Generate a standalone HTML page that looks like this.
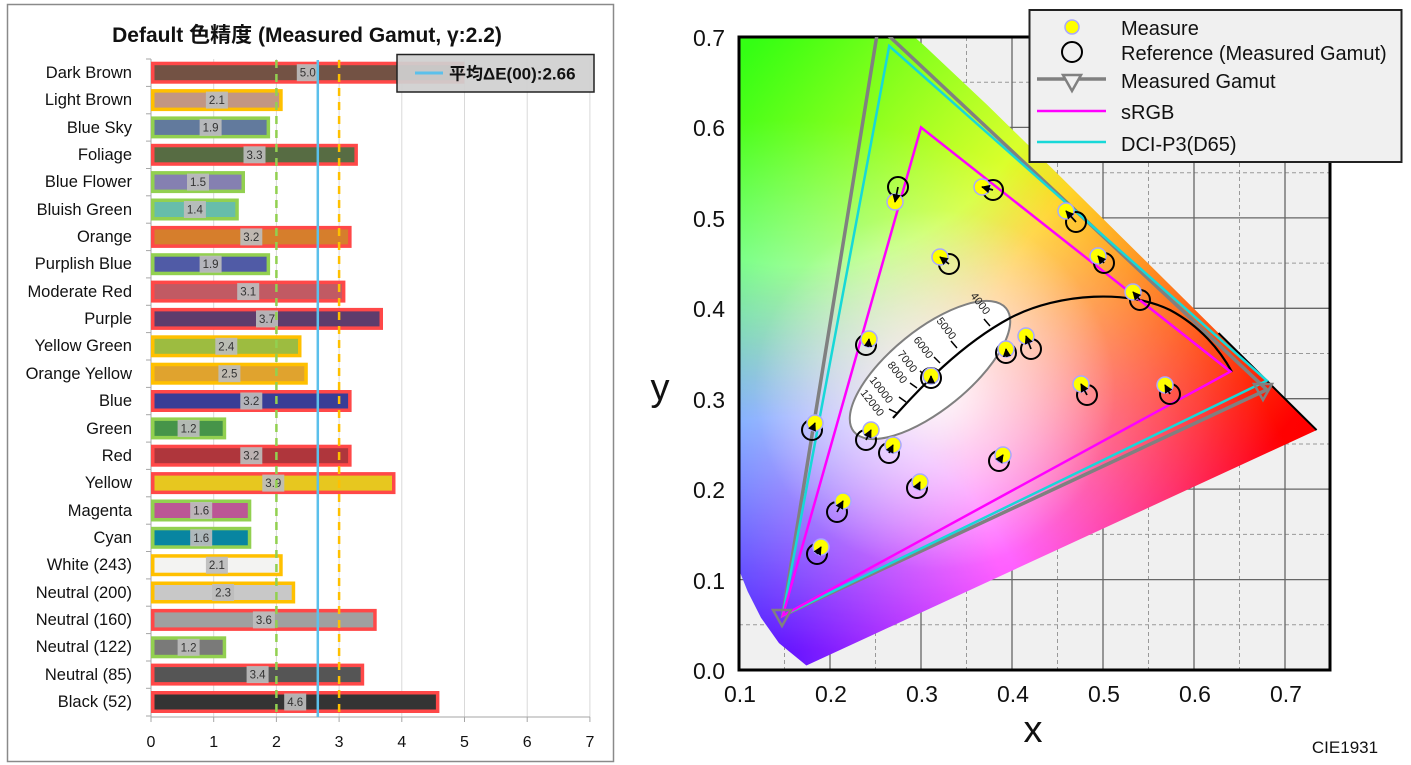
<!DOCTYPE html>
<html><head><meta charset="utf-8"><style>
html,body{margin:0;padding:0;background:#fff;}
svg{display:block;font-family:"Liberation Sans","Noto Sans CJK JP",sans-serif;}
</style></head><body>
<svg width="1411" height="765" viewBox="0 0 1411 765" xmlns="http://www.w3.org/2000/svg">
<defs>
<radialGradient id="gG" gradientUnits="userSpaceOnUse" cx="800" cy="10" r="640"><stop offset="0" stop-color="#30ff10"/><stop offset="0.4" stop-color="#40ff20"/><stop offset="1" stop-color="#000"/></radialGradient>
<radialGradient id="gB" gradientUnits="userSpaceOnUse" cx="790" cy="660" r="540"><stop offset="0" stop-color="#1a10ff"/><stop offset="0.45" stop-color="#3040ff"/><stop offset="1" stop-color="#000"/></radialGradient>
<radialGradient id="gR" gradientUnits="userSpaceOnUse" cx="1310" cy="430" r="680"><stop offset="0" stop-color="#ff0000"/><stop offset="0.5" stop-color="#ff1010"/><stop offset="1" stop-color="#000"/></radialGradient>
<radialGradient id="gW" gradientUnits="userSpaceOnUse" cx="935" cy="390" r="180"><stop offset="0" stop-color="#fff" stop-opacity="0.95"/><stop offset="0.35" stop-color="#fff" stop-opacity="0.55"/><stop offset="1" stop-color="#fff" stop-opacity="0"/></radialGradient>
<clipPath id="locus"><polygon points="806.4,665.5 779,643.1 761,617.7 747.7,591.5 739,569.7 739,37 914.4,37 922.5,44 987.5,105.3 1052.1,168.4 1114.4,230 1171.4,286.4 1218.6,333.1 1253.9,368 1277.3,391.2 1302.3,416 1316.6,430.1"/></clipPath>
<clipPath id="plot"><rect x="739" y="37" width="591" height="633"/></clipPath>
<marker id="ah" viewBox="0 0 10 10" refX="9" refY="5" markerWidth="5" markerHeight="5" orient="auto"><path d="M0,0 L10,5 L0,10 z" fill="#000"/></marker>
</defs>

<!-- LEFT CHART -->
<rect x="7.5" y="4.5" width="606" height="757" fill="#fff" stroke="#8a8a8a" stroke-width="1.5"/>
<text x="307" y="42" font-size="21" font-weight="bold" text-anchor="middle" fill="#111">Default 色精度 (Measured Gamut, γ:2.2)</text>
<g stroke="#d9d9d9" stroke-width="1">
<line x1="213.7" y1="59" x2="213.7" y2="717"/><line x1="276.4" y1="59" x2="276.4" y2="717"/><line x1="339.1" y1="59" x2="339.1" y2="717"/><line x1="401.8" y1="59" x2="401.8" y2="717"/><line x1="464.5" y1="59" x2="464.5" y2="717"/><line x1="527.2" y1="59" x2="527.2" y2="717"/><line x1="589.9" y1="59" x2="589.9" y2="717"/>
</g>
<g stroke="#a6a6a6" stroke-width="1">
<line x1="151" y1="59" x2="151" y2="717"/><line x1="151" y1="717" x2="590" y2="717"/>
<line x1="146" y1="59" x2="151" y2="59"/><line x1="146" y1="86.4" x2="151" y2="86.4"/><line x1="146" y1="113.8" x2="151" y2="113.8"/><line x1="146" y1="141.1" x2="151" y2="141.1"/><line x1="146" y1="168.5" x2="151" y2="168.5"/><line x1="146" y1="195.8" x2="151" y2="195.8"/><line x1="146" y1="223.2" x2="151" y2="223.2"/><line x1="146" y1="250.6" x2="151" y2="250.6"/><line x1="146" y1="277.9" x2="151" y2="277.9"/><line x1="146" y1="305.3" x2="151" y2="305.3"/><line x1="146" y1="332.6" x2="151" y2="332.6"/><line x1="146" y1="360" x2="151" y2="360"/><line x1="146" y1="387.4" x2="151" y2="387.4"/><line x1="146" y1="414.7" x2="151" y2="414.7"/><line x1="146" y1="442.1" x2="151" y2="442.1"/><line x1="146" y1="469.4" x2="151" y2="469.4"/><line x1="146" y1="496.8" x2="151" y2="496.8"/><line x1="146" y1="524.2" x2="151" y2="524.2"/><line x1="146" y1="551.5" x2="151" y2="551.5"/><line x1="146" y1="578.9" x2="151" y2="578.9"/><line x1="146" y1="606.2" x2="151" y2="606.2"/><line x1="146" y1="633.6" x2="151" y2="633.6"/><line x1="146" y1="661" x2="151" y2="661"/><line x1="146" y1="688.3" x2="151" y2="688.3"/><line x1="146" y1="716" x2="151" y2="716"/>
<line x1="151" y1="717" x2="151" y2="722"/><line x1="213.7" y1="717" x2="213.7" y2="722"/><line x1="276.4" y1="717" x2="276.4" y2="722"/><line x1="339.1" y1="717" x2="339.1" y2="722"/><line x1="401.8" y1="717" x2="401.8" y2="722"/><line x1="464.5" y1="717" x2="464.5" y2="722"/><line x1="527.2" y1="717" x2="527.2" y2="722"/><line x1="589.9" y1="717" x2="589.9" y2="722"/>
</g>
<g font-size="16" fill="#111" text-anchor="middle">
<text x="151" y="747">0</text><text x="213.7" y="747">1</text><text x="276.4" y="747">2</text><text x="339.1" y="747">3</text><text x="401.8" y="747">4</text><text x="464.5" y="747">5</text><text x="527.2" y="747">6</text><text x="589.9" y="747">7</text>
</g>

<g font-size="16.5" fill="#111" text-anchor="end">
<text x="132" y="78">Dark Brown</text><text x="132" y="105">Light Brown</text><text x="132" y="133">Blue Sky</text><text x="132" y="160">Foliage</text><text x="132" y="187">Blue Flower</text><text x="132" y="215">Bluish Green</text><text x="132" y="242">Orange</text><text x="132" y="269">Purplish Blue</text><text x="132" y="297">Moderate Red</text><text x="132" y="324">Purple</text><text x="132" y="351">Yellow Green</text><text x="132" y="379">Orange Yellow</text><text x="132" y="406">Blue</text><text x="132" y="434">Green</text><text x="132" y="461">Red</text><text x="132" y="488">Yellow</text><text x="132" y="516">Magenta</text><text x="132" y="543">Cyan</text><text x="132" y="570">White (243)</text><text x="132" y="598">Neutral (200)</text><text x="132" y="625">Neutral (160)</text><text x="132" y="652">Neutral (122)</text><text x="132" y="680">Neutral (85)</text><text x="132" y="707">Black (52)</text>
</g>

<g stroke-width="3.5">
<rect x="152.75" y="63.45" width="310" height="18.5" fill="#735244" stroke="#ff4848"/>
<rect x="152.75" y="90.85" width="128.2" height="18.5" fill="#c29682" stroke="#ffc000"/>
<rect x="152.75" y="118.15" width="115.6" height="18.5" fill="#627a9d" stroke="#92d050"/>
<rect x="152.75" y="145.55" width="203.4" height="18.5" fill="#576c43" stroke="#ff4848"/>
<rect x="152.75" y="172.85" width="90.5" height="18.5" fill="#8580b1" stroke="#92d050"/>
<rect x="152.75" y="200.25" width="84.3" height="18.5" fill="#67bdaa" stroke="#92d050"/>
<rect x="152.75" y="227.65" width="197.1" height="18.5" fill="#d67e2c" stroke="#ff4848"/>
<rect x="152.75" y="254.95" width="115.6" height="18.5" fill="#505ba6" stroke="#92d050"/>
<rect x="152.75" y="282.35" width="190.9" height="18.5" fill="#c15a63" stroke="#ff4848"/>
<rect x="152.75" y="309.65" width="228.5" height="18.5" fill="#5e3c6c" stroke="#ff4848"/>
<rect x="152.75" y="337.05" width="147" height="18.5" fill="#9dbc40" stroke="#ffc000"/>
<rect x="152.75" y="364.45" width="153.3" height="18.5" fill="#e0a32e" stroke="#ffc000"/>
<rect x="152.75" y="391.75" width="197.1" height="18.5" fill="#383d96" stroke="#ff4848"/>
<rect x="152.75" y="419.15" width="71.7" height="18.5" fill="#469449" stroke="#92d050"/>
<rect x="152.75" y="446.45" width="197.1" height="18.5" fill="#af363c" stroke="#ff4848"/>
<rect x="152.75" y="473.85" width="241" height="18.5" fill="#e7c71f" stroke="#ff4848"/>
<rect x="152.75" y="501.25" width="96.8" height="18.5" fill="#bb5695" stroke="#92d050"/>
<rect x="152.75" y="528.55" width="96.8" height="18.5" fill="#0885a1" stroke="#92d050"/>
<rect x="152.75" y="555.95" width="128.2" height="18.5" fill="#f3f3f2" stroke="#ffc000"/>
<rect x="152.75" y="583.25" width="140.7" height="18.5" fill="#c8c8c8" stroke="#ffc000"/>
<rect x="152.75" y="610.65" width="222.2" height="18.5" fill="#a0a0a0" stroke="#ff4848"/>
<rect x="152.75" y="638.05" width="71.7" height="18.5" fill="#7a7a79" stroke="#92d050"/>
<rect x="152.75" y="665.35" width="209.7" height="18.5" fill="#555555" stroke="#ff4848"/>
<rect x="152.75" y="692.75" width="284.9" height="18.5" fill="#343434" stroke="#ff4848"/>
</g>

<g fill="#bdbdbd" fill-opacity="0.92">
<rect x="296.8" y="64.2" width="22" height="17"/><rect x="205.9" y="91.6" width="22" height="17"/><rect x="199.6" y="118.9" width="22" height="17"/><rect x="243.5" y="146.3" width="22" height="17"/><rect x="187" y="173.6" width="22" height="17"/><rect x="183.9" y="201" width="22" height="17"/><rect x="240.3" y="228.4" width="22" height="17"/><rect x="199.6" y="255.7" width="22" height="17"/><rect x="237.2" y="283.1" width="22" height="17"/><rect x="256" y="310.4" width="22" height="17"/><rect x="215.3" y="337.8" width="22" height="17"/><rect x="218.4" y="365.2" width="22" height="17"/><rect x="240.3" y="392.5" width="22" height="17"/><rect x="177.6" y="419.9" width="22" height="17"/><rect x="240.3" y="447.2" width="22" height="17"/><rect x="262.3" y="474.6" width="22" height="17"/><rect x="190.2" y="502" width="22" height="17"/><rect x="190.2" y="529.3" width="22" height="17"/><rect x="205.9" y="556.7" width="22" height="17"/><rect x="212.1" y="584" width="22" height="17"/><rect x="252.9" y="611.4" width="22" height="17"/><rect x="177.6" y="638.8" width="22" height="17"/><rect x="246.6" y="666.1" width="22" height="17"/><rect x="284.2" y="693.5" width="22" height="17"/>
</g>
<g font-size="11.5" fill="#333" text-anchor="middle">
<text x="307.8" y="76.7">5.0</text><text x="216.9" y="104.1">2.1</text><text x="210.6" y="131.4">1.9</text><text x="254.5" y="158.8">3.3</text><text x="198" y="186.1">1.5</text><text x="194.9" y="213.5">1.4</text><text x="251.3" y="240.9">3.2</text><text x="210.6" y="268.2">1.9</text><text x="248.2" y="295.6">3.1</text><text x="267" y="322.9">3.7</text><text x="226.3" y="350.3">2.4</text><text x="229.4" y="377.7">2.5</text><text x="251.3" y="405">3.2</text><text x="188.6" y="432.4">1.2</text><text x="251.3" y="459.7">3.2</text><text x="273.3" y="487.1">3.9</text><text x="201.2" y="514.5">1.6</text><text x="201.2" y="541.8">1.6</text><text x="216.9" y="569.2">2.1</text><text x="223.1" y="596.5">2.3</text><text x="263.9" y="623.9">3.6</text><text x="188.6" y="651.3">1.2</text><text x="257.6" y="678.6">3.4</text><text x="295.2" y="706">4.6</text>
</g>
<line x1="276.4" y1="60" x2="276.4" y2="717" stroke="#92d050" stroke-width="2.5" stroke-dasharray="8,6"/>
<line x1="339.1" y1="60" x2="339.1" y2="717" stroke="#ffc000" stroke-width="2.5" stroke-dasharray="8,6"/>
<line x1="317.8" y1="60" x2="317.8" y2="717" stroke="#5bc0eb" stroke-width="2.5"/>
<rect x="397" y="54.5" width="197" height="37.5" fill="#d0d0d0" fill-opacity="0.93" stroke="#222" stroke-width="1.5"/>
<line x1="415" y1="73" x2="443" y2="73" stroke="#5bc0eb" stroke-width="3"/>
<text x="449" y="79.5" font-size="17" font-weight="bold" fill="#111">平均ΔE(00):2.66</text>

<!-- RIGHT CHART -->
<rect x="739" y="37" width="591" height="633" fill="#f0f0f0"/>
<g stroke="#999" stroke-width="1" stroke-dasharray="4,3">
<line x1="784.5" y1="37" x2="784.5" y2="670"/><line x1="875.5" y1="37" x2="875.5" y2="670"/><line x1="966.5" y1="37" x2="966.5" y2="670"/><line x1="1057.5" y1="37" x2="1057.5" y2="670"/><line x1="1148.5" y1="37" x2="1148.5" y2="670"/><line x1="1239.5" y1="37" x2="1239.5" y2="670"/>
<line x1="739" y1="624.8" x2="1330" y2="624.8"/><line x1="739" y1="534.4" x2="1330" y2="534.4"/><line x1="739" y1="444" x2="1330" y2="444"/><line x1="739" y1="353.5" x2="1330" y2="353.5"/><line x1="739" y1="263.1" x2="1330" y2="263.1"/><line x1="739" y1="172.7" x2="1330" y2="172.7"/><line x1="739" y1="82.2" x2="1330" y2="82.2"/>
</g>
<g stroke="#666" stroke-width="1.3">
<line x1="830" y1="37" x2="830" y2="670"/><line x1="921" y1="37" x2="921" y2="670"/><line x1="1012" y1="37" x2="1012" y2="670"/><line x1="1103" y1="37" x2="1103" y2="670"/><line x1="1194" y1="37" x2="1194" y2="670"/><line x1="1285" y1="37" x2="1285" y2="670"/>
<line x1="739" y1="579.6" x2="1330" y2="579.6"/><line x1="739" y1="489.1" x2="1330" y2="489.1"/><line x1="739" y1="398.7" x2="1330" y2="398.7"/><line x1="739" y1="308.3" x2="1330" y2="308.3"/><line x1="739" y1="217.9" x2="1330" y2="217.9"/><line x1="739" y1="127.4" x2="1330" y2="127.4"/>
</g>
<g clip-path="url(#locus)">
<rect x="739" y="37" width="591" height="633" fill="#000"/>
<rect x="700" y="0" width="650" height="700" fill="url(#gG)" style="mix-blend-mode:screen"/>
<rect x="700" y="0" width="650" height="700" fill="url(#gB)" style="mix-blend-mode:screen"/>
<rect x="700" y="0" width="650" height="700" fill="url(#gR)" style="mix-blend-mode:screen"/>
<rect x="700" y="0" width="650" height="700" fill="url(#gW)"/>
</g>
<polyline points="1218.6,333.1 1253.9,368 1277.3,391.2 1302.3,416 1316.6,430.1" fill="none" stroke="#000" stroke-width="2"/>
<rect x="739" y="37" width="591" height="633" fill="none" stroke="#000" stroke-width="3"/>

<g clip-path="url(#plot)" fill="none">
<ellipse cx="930" cy="370" rx="98" ry="40" transform="rotate(-39 930 370)" fill="#fff" stroke="#808080" stroke-width="2"/>
<path d="M893,418 C920,388 960,345 1010,318 C1060,292 1130,290 1170,310 C1200,326 1220,350 1232,372" stroke="#000" stroke-width="2.2"/>
<g stroke="#000" stroke-width="1.5"><line x1="990" y1="326" x2="984" y2="319"/><line x1="957" y1="348" x2="951" y2="341"/><line x1="940" y1="363" x2="934" y2="357"/><line x1="927" y1="377" x2="920" y2="371"/><line x1="917" y1="388" x2="910" y2="383"/><line x1="906" y1="402" x2="899" y2="397"/><line x1="897" y1="413" x2="889" y2="409"/></g>
<polygon points="782.7,615.7 878.4,26 1266.8,389.7" stroke="#808080" stroke-width="3.5"/>
<polygon points="782.7,615.7 889.2,46 1266.8,380.6" stroke="#17d8d8" stroke-width="2.5"/>
<polygon points="782.7,615.7 921,127.4 1230.4,371.6" stroke="#ff00ff" stroke-width="2.5"/>
</g>
<g font-size="11" fill="#222">
<text transform="translate(970,296) rotate(52)">4000</text>
<text transform="translate(936,321) rotate(52)">5000</text>
<text transform="translate(913,340) rotate(52)">6000</text>
<text transform="translate(897,354) rotate(52)">7000</text>
<text transform="translate(887,365) rotate(52)">8000</text>
<text transform="translate(869,380) rotate(52)">10000</text>
<text transform="translate(860,393) rotate(52)">12000</text>
</g>
<g fill="none" stroke="#808080" stroke-width="2.5">
<polygon points="773,610 791,610 782,626"/>
<polygon points="1254,384 1272,384 1263,400"/>
</g>

<g>
<g fill="none" stroke="#000" stroke-width="2">
<circle cx="898" cy="187" r="10"/><circle cx="993" cy="190" r="10"/><circle cx="1076" cy="222" r="10"/><circle cx="1104" cy="263" r="10"/><circle cx="1140" cy="300" r="10"/><circle cx="949" cy="264" r="10"/><circle cx="866" cy="345" r="10"/><circle cx="1006" cy="353" r="10"/><circle cx="1031" cy="349" r="10"/><circle cx="931" cy="378" r="10"/><circle cx="1087" cy="395" r="10"/><circle cx="1170" cy="394" r="10"/><circle cx="812" cy="430" r="10"/><circle cx="866" cy="440" r="10"/><circle cx="889" cy="453" r="10"/><circle cx="999" cy="461" r="10"/><circle cx="917" cy="488" r="10"/><circle cx="837" cy="512" r="10"/><circle cx="817" cy="554" r="10"/>
</g>
<g fill="#ffff00" stroke="#a8a8ff" stroke-width="1.5">
<circle cx="895" cy="202" r="8"/><circle cx="982" cy="187" r="8"/><circle cx="1066" cy="211" r="8"/><circle cx="1098" cy="256" r="8"/><circle cx="1133" cy="292" r="8"/><circle cx="940" cy="257" r="8"/><circle cx="869" cy="339" r="8"/><circle cx="1006" cy="349" r="8"/><circle cx="1026" cy="336" r="8"/><circle cx="931" cy="376" r="8"/><circle cx="1081" cy="384" r="8"/><circle cx="1165" cy="385" r="8"/><circle cx="815" cy="423" r="8"/><circle cx="871" cy="430" r="8"/><circle cx="893" cy="445" r="8"/><circle cx="1003" cy="455" r="8"/><circle cx="920" cy="482" r="8"/><circle cx="843" cy="501" r="8"/><circle cx="821" cy="547" r="8"/>
</g>
<g stroke="#000" stroke-width="1.7" marker-end="url(#ah)">
<line x1="898" y1="187" x2="895" y2="202"/><line x1="993" y1="190" x2="982" y2="187"/><line x1="1076" y1="222" x2="1066" y2="211"/><line x1="1104" y1="263" x2="1098" y2="256"/><line x1="1140" y1="300" x2="1133" y2="292"/><line x1="949" y1="264" x2="940" y2="257"/><line x1="868" y1="347" x2="869" y2="339"/><line x1="1007" y1="357" x2="1006" y2="349"/><line x1="1031" y1="349" x2="1026" y2="336"/><line x1="931" y1="382" x2="931" y2="376"/><line x1="1087" y1="395" x2="1081" y2="384"/><line x1="1170" y1="394" x2="1165" y2="385"/><line x1="812" y1="430" x2="815" y2="423"/><line x1="866" y1="440" x2="871" y2="430"/><line x1="889" y1="453" x2="893" y2="445"/><line x1="999" y1="461" x2="1003" y2="455"/><line x1="917" y1="488" x2="920" y2="482"/><line x1="837" y1="512" x2="843" y2="501"/><line x1="817" y1="554" x2="821" y2="547"/>
</g>
</g>

<g font-size="23" fill="#111" text-anchor="end">
<text x="725" y="46">0.7</text><text x="725" y="136">0.6</text><text x="725" y="227">0.5</text><text x="725" y="317">0.4</text><text x="725" y="408">0.3</text><text x="725" y="498">0.2</text><text x="725" y="589">0.1</text><text x="725" y="679">0.0</text>
</g>
<g font-size="23" fill="#111" text-anchor="middle">
<text x="740" y="702">0.1</text><text x="831" y="702">0.2</text><text x="922" y="702">0.3</text><text x="1013" y="702">0.4</text><text x="1104" y="702">0.5</text><text x="1195" y="702">0.6</text><text x="1286" y="702">0.7</text>
</g>
<text x="1033" y="742" font-size="38" fill="#111" text-anchor="middle">x</text>
<text x="660" y="400" font-size="38" fill="#111" text-anchor="middle">y</text>
<text x="1345" y="753" font-size="17" fill="#111" text-anchor="middle">CIE1931</text>

<rect x="1029.5" y="10" width="372" height="152" fill="#f0f0f0" stroke="#222" stroke-width="2"/>
<circle cx="1072" cy="27" r="7" fill="#ffff00" stroke="#a8a8ff" stroke-width="1.5"/>
<circle cx="1072" cy="52" r="10" fill="none" stroke="#000" stroke-width="2"/>
<line x1="1037" y1="79" x2="1106" y2="79" stroke="#808080" stroke-width="3.5"/>
<polygon points="1063,75 1081,75 1072,91" fill="#f0f0f0" stroke="#808080" stroke-width="2.5"/>
<line x1="1037" y1="111" x2="1106" y2="111" stroke="#ff00ff" stroke-width="2.5"/>
<line x1="1037" y1="142" x2="1106" y2="142" stroke="#17d8d8" stroke-width="2.5"/>
<g font-size="20" fill="#111">
<text x="1121" y="35">Measure</text><text x="1121" y="60">Reference (Measured Gamut)</text><text x="1121" y="88">Measured Gamut</text><text x="1121" y="119">sRGB</text><text x="1121" y="151">DCI-P3(D65)</text>
</g>
</svg>
</body></html>
